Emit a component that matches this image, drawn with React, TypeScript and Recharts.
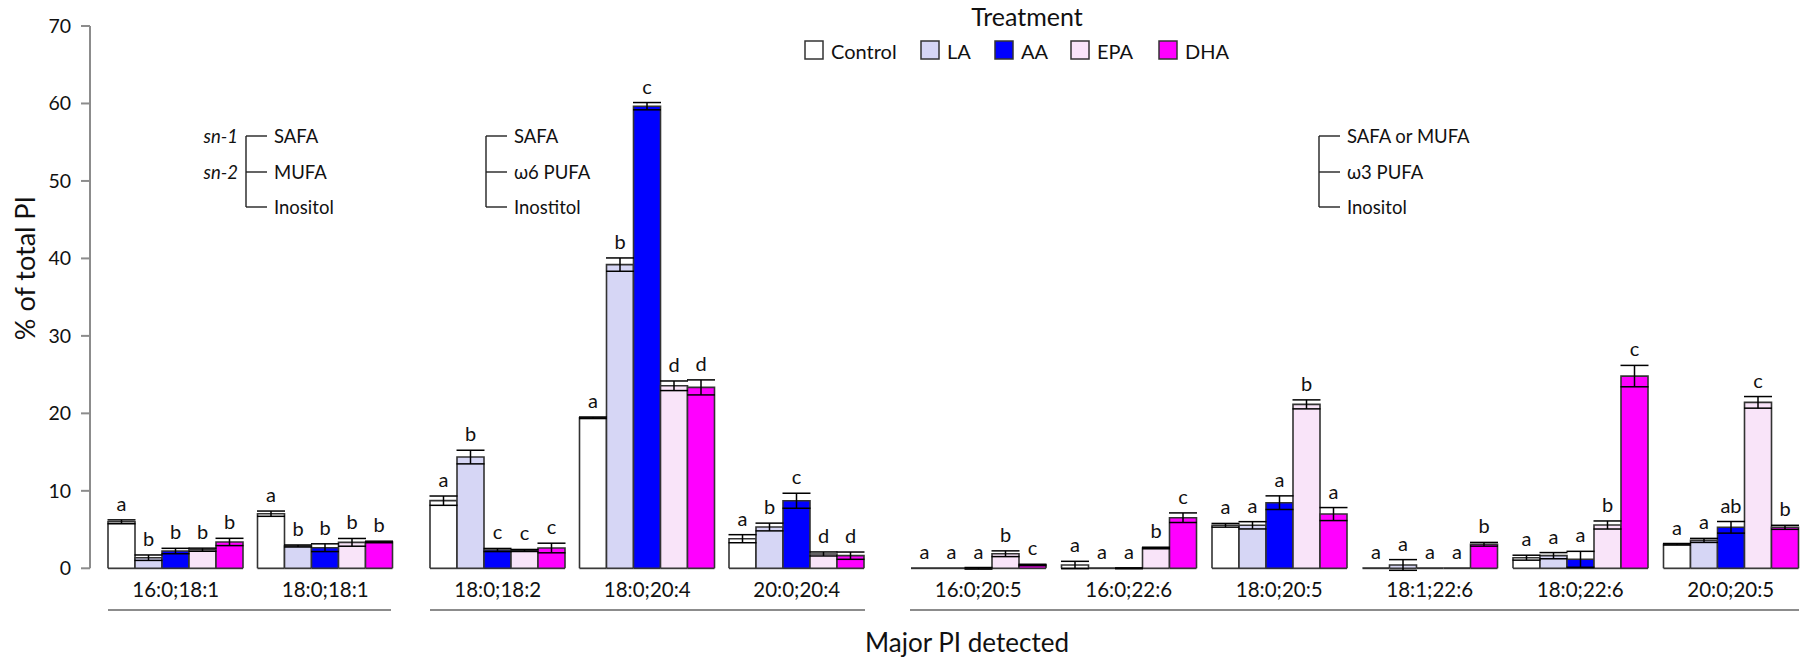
import React from 'react';
import { BarChart, Bar, XAxis, YAxis, ErrorBar } from 'recharts';

const CATEGORIES = [
  '16:0;18:1', '18:0;18:1',
  '18:0;18:2', '18:0;20:4', '20:0;20:4',
  '16:0;20:5', '16:0;22:6', '18:0;20:5', '18:1;22:6', '18:0;22:6', '20:0;20:5',
];

const CONTROL = [6.0, 7.05, 8.73, 19.43, 3.82, 0, 0.43, 5.55, 0, 1.37, 3.1];
const LA = [1.37, 2.88, 14.36, 39.2, 5.33, 0, 0, 5.55, 0.43, 1.63, 3.6];
const AA = [2.23, 2.66, 2.36, 59.65, 8.72, 0, 0, 8.47, 0, 1.16, 5.29];
const EPA = [2.4, 3.35, 2.3, 23.56, 1.85, 1.88, 2.62, 21.16, 0, 5.59, 21.42];
const DHA = [3.4, 3.4, 2.62, 23.35, 1.63, 0.43, 6.53, 7.0, 3.1, 24.81, 5.29];

const CONTROL_ERR = [0.25, 0.34, 0.6, 0.1, 0.52, 0, 0.47, 0.24, 0, 0.32, 0.1];
const LA_ERR = [0.35, 0.13, 0.88, 0.86, 0.5, 0, 0, 0.47, 0.69, 0.4, 0.26];
const AA_ERR = [0.35, 0.5, 0.2, 0.47, 0.97, 0.1, 0.05, 0.88, 0, 1.03, 0.75];
const EPA_ERR = [0.2, 0.5, 0.13, 0.62, 0.26, 0.37, 0.1, 0.58, 0, 0.52, 0.75];
const DHA_ERR = [0.47, 0.1, 0.62, 0.97, 0.47, 0.09, 0.62, 0.84, 0.24, 1.38, 0.26];

const CONTROL_SIG = ['a', 'a', 'a', 'a', 'a', 'a', 'a', 'a', 'a', 'a', 'a'];
const LA_SIG = ['b', 'b', 'b', 'b', 'b', 'a', 'a', 'a', 'a', 'a', 'a'];
const AA_SIG = ['b', 'b', 'c', 'c', 'c', 'a', 'a', 'a', 'a', 'a', 'ab'];
const EPA_SIG = ['b', 'b', 'c', 'd', 'd', 'b', 'b', 'b', 'a', 'b', 'c'];
const DHA_SIG = ['b', 'b', 'c', 'd', 'd', 'c', 'c', 'a', 'b', 'c', 'b'];

const Y_TICKS = [0, 10, 20, 30, 40, 50, 60, 70];

const SERIES = [
  { key: 'control', name: 'Control', fill: '#FFFFFF', values: CONTROL, err: CONTROL_ERR, sig: CONTROL_SIG },
  { key: 'la', name: 'LA', fill: '#D6D6F5', values: LA, err: LA_ERR, sig: LA_SIG },
  { key: 'aa', name: 'AA', fill: '#0000FF', values: AA, err: AA_ERR, sig: AA_SIG },
  { key: 'epa', name: 'EPA', fill: '#F9E4F9', values: EPA, err: EPA_ERR, sig: EPA_SIG },
  { key: 'dha', name: 'DHA', fill: '#FF00FF', values: DHA, err: DHA_ERR, sig: DHA_SIG },
];

const ROWS = CATEGORIES.map((name, i) => {
  const row: any = { name };
  SERIES.forEach((s) => {
    row[s.key] = s.values[i];
    row[s.key + 'Err'] = s.err[i];
    row[s.key + 'Sig'] = s.sig[i];
  });
  return row;
});

const FONT = 'Lato, "Open Sans", sans-serif';
const W = 1801;
const H = 661;
const Y_MAX = 70;
const PLOT_TOP = 26;
const PLOT_BOTTOM = 568.3;
const PPU = (PLOT_BOTTOM - PLOT_TOP) / Y_MAX;
const X_AXIS_H = 30;

const SECTIONS = [
  { rows: ROWS.slice(0, 2), left: 0, width: 400, yAxis: true, padLeft: 11 },
  { rows: ROWS.slice(2, 5), left: 422.5, width: 448.5, yAxis: false, padLeft: 0 },
  { rows: ROWS.slice(5), left: 902.5, width: 903, yAxis: false, padLeft: 0 },
];

// bar outline + significance letter sitting above the error cap
function makeShape(key: string) {
  return (p: any) => {
    const { x, y, width, height, fill, payload } = p;
    const err = payload?.[key + 'Err'] ?? 0;
    const sig = payload?.[key + 'Sig'] ?? '';
    return (
      <g>
        <path d={`M${x},${y}h${width}v${height || 0}h${-width}Z`} fill={fill} stroke="#333" strokeWidth={1.6} />
        <text x={x + width / 2} y={y - err * PPU - 9} textAnchor="middle" fontSize={20} fontFamily={FONT} fill="#111">
          {sig}
        </text>
      </g>
    );
  };
}

// zero-valued bars still show as a dark line on the baseline
const baseline = (p: any) => (
  <line x1={p.x} x2={p.x + p.width} y1={p.y + p.height} y2={p.y + p.height} stroke="#333" strokeWidth={1.8} />
);

function Section({ rows, left, width, yAxis, padLeft }: any) {
  return (
    <div style={{ position: 'absolute', left, top: 0 }}>
      <BarChart
        width={width}
        height={H}
        data={rows}
        margin={{ top: PLOT_TOP, right: 0, left: 0, bottom: H - PLOT_BOTTOM - X_AXIS_H }}
        barGap={0}
        barSize={27}
      >
        <XAxis
          dataKey="name"
          height={X_AXIS_H}
          axisLine={false}
          tickLine={false}
          tickSize={6}
          tickMargin={8}
          interval={0}
          padding={{ left: padLeft, right: 0 }}
          tick={{ fill: '#111', fontSize: 20.5, fontFamily: FONT }}
        />
        <YAxis
          hide={!yAxis}
          width={90}
          domain={[0, Y_MAX]}
          ticks={Y_TICKS}
          interval={0}
          allowDataOverflow
          tickSize={9}
          tickMargin={10}
          axisLine={{ stroke: '#8c8c8c', strokeWidth: 2 }}
          tickLine={{ stroke: '#8c8c8c', strokeWidth: 2 }}
          tick={{ fill: '#111', fontSize: 19.5, fontFamily: FONT }}
        />
        {SERIES.map((s) => (
          <Bar
            key={s.key}
            dataKey={s.key}
            name={s.name}
            fill={s.fill}
            isAnimationActive={false}
            background={baseline}
            shape={makeShape(s.key)}
          >
            <ErrorBar dataKey={s.key + 'Err'} width={14} stroke="#000" strokeWidth={1.5} />
          </Bar>
        ))}
      </BarChart>
    </div>
  );
}

const LEGEND_X = [805, 921, 995, 1071, 1159];

const BRACKETS = [
  { x: 246, labels: ['SAFA', 'MUFA', 'Inositol'], sn: true },
  { x: 486, labels: ['SAFA', 'ω6 PUFA', 'Inostitol'], sn: false },
  { x: 1319, labels: ['SAFA or MUFA', 'ω3 PUFA', 'Inositol'], sn: false },
];
const BRACKET_Y = [136, 172, 207];

const UNDERLINES = [[108, 391], [430, 865], [910, 1799]];

function Overlay() {
  return (
    <svg width={W} height={H} style={{ position: 'absolute', left: 0, top: 0, pointerEvents: 'none' }} fontFamily={FONT}>
      <text x={24} y={268} transform="rotate(-90 24 268)" textAnchor="middle" dominantBaseline="central" fontSize={27} fill="#111">
        % of total PI
      </text>
      <text x={967} y={652} textAnchor="middle" fontSize={26} fill="#111">Major PI detected</text>
      {UNDERLINES.map(([a, b], i) => (
        <line key={i} x1={a} x2={b} y1={610} y2={610} stroke="#666" strokeWidth={1.6} />
      ))}
      <text x={1027} y={26} textAnchor="middle" fontSize={25} fill="#111">Treatment</text>
      {SERIES.map((s, i) => (
        <g key={s.key}>
          <rect x={LEGEND_X[i]} y={41} width={18} height={18} fill={s.fill} stroke="#333" strokeWidth={1.5} />
          <text x={LEGEND_X[i] + 26} y={58.5} fontSize={20} fill="#111">{s.name}</text>
        </g>
      ))}
      {BRACKETS.map((b, bi) => (
        <g key={bi}>
          <line x1={b.x} x2={b.x} y1={BRACKET_Y[0]} y2={BRACKET_Y[2]} stroke="#222" strokeWidth={1.4} />
          {BRACKET_Y.map((yy, j) => (
            <g key={j}>
              <line x1={b.x} x2={b.x + 21} y1={yy} y2={yy} stroke="#222" strokeWidth={1.4} />
              <text x={b.x + 28} y={yy} dominantBaseline="central" fontSize={18.5} fill="#111">{b.labels[j]}</text>
            </g>
          ))}
          {b.sn && (
            <>
              <text x={b.x - 8} y={BRACKET_Y[0]} textAnchor="end" dominantBaseline="central" fontSize={18.5} fontStyle="italic" fill="#111">sn-1</text>
              <text x={b.x - 8} y={BRACKET_Y[1]} textAnchor="end" dominantBaseline="central" fontSize={18.5} fontStyle="italic" fill="#111">sn-2</text>
            </>
          )}
        </g>
      ))}
    </svg>
  );
}

export default function App() {
  return (
    <div style={{ position: 'absolute', left: 0, top: 0, width: W, height: H, overflow: 'hidden', background: '#fff' }}>
      {SECTIONS.map((sec, i) => (
        <Section key={i} {...sec} />
      ))}
      <Overlay />
    </div>
  );
}
